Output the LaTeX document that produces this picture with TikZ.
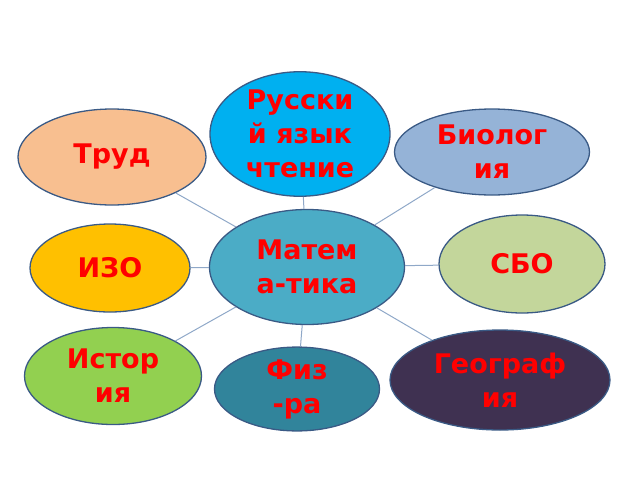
\documentclass[tikz,border=0pt]{standalone}
\usepackage{fontspec}
\setmainfont{DejaVu Sans}
\usetikzlibrary{shapes.geometric}
\definecolor{bord}{HTML}{3A5A85}
\definecolor{link}{HTML}{8FA8C8}
\definecolor{cRus}{HTML}{00B0F0}
\definecolor{cTrud}{HTML}{F8BF90}
\definecolor{cBio}{HTML}{95B3D7}
\definecolor{cMat}{HTML}{4BACC6}
\definecolor{cIzo}{HTML}{FFC000}
\definecolor{cSbo}{HTML}{C3D69B}
\definecolor{cIst}{HTML}{92D050}
\definecolor{cFiz}{HTML}{31849B}
\definecolor{cGeo}{HTML}{3F3151}
\definecolor{txt}{HTML}{FF0000}
\tikzset{
  subj/.style={ellipse, draw=bord, line width=1.3pt, inner sep=0pt, align=center,
    text=txt, font=\fontsize{27}{34}\selectfont\bfseries},
  conn/.style={draw=link, line width=1pt}
}
\begin{document}
\begin{tikzpicture}[x=1pt,y=-1pt]
\useasboundingbox (0,0) rectangle (640,480);
\node[subj, fill=cRus, minimum width=180, minimum height=120] (rus) at (300,134) {Русски\\й язык\\чтение};
\node[subj, fill=cTrud, minimum width=188, minimum height=96] (trud) at (112,157) {Труд};
\node[subj, fill=cBio, minimum width=195, minimum height=86] (bio) at (492,152) {Биолог\\ия};
\node[subj, fill=cMat, minimum width=195, minimum height=115] (mat) at (307,267) {Матем\\а-тика};
\node[subj, fill=cIzo, minimum width=160, minimum height=88] (izo) at (110,268) {ИЗО};
\node[subj, fill=cSbo, minimum width=166, minimum height=98] (sbo) at (522,264) {СБО};
\node[subj, fill=cIst, minimum width=177, minimum height=97] (ist) at (113,376) {Истор\\ия};
\node[subj, fill=cFiz, minimum width=165, minimum height=82] (fiz) at (297,389) {Физ\\-ра};
\node[subj, fill=cGeo, minimum width=220, minimum height=100] (geo) at (500,380) {Географ\\ия};
\foreach \n in {rus,trud,bio,izo,sbo,ist,fiz,geo}
  \draw[conn] (mat) -- (\n);
\end{tikzpicture}
\end{document}
